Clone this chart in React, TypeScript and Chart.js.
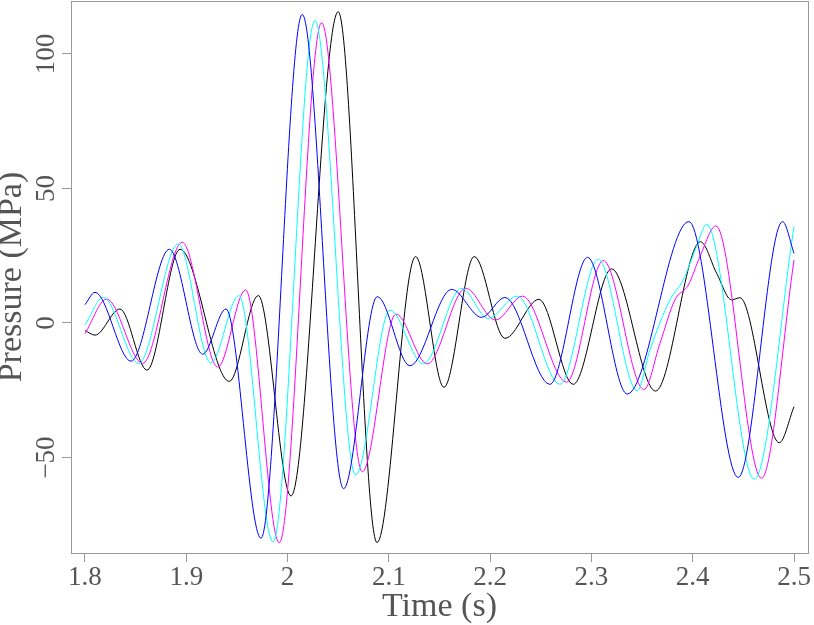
import React, { useEffect, useRef } from 'react';
import { Chart, registerables } from 'chart.js';

Chart.register(...registerables);

const xTicks = [1.8, 1.9, 2.0, 2.1, 2.2, 2.3, 2.4, 2.5];
const yTicks = [-50, 0, 50, 100];
const xMin = 1.7862;
const xMax = 2.5138;
const yMin = -85.5;
const yMax = 119.7;

const blueT = [1.8, 1.8099, 1.8455, 1.8833, 1.9162, 1.9392, 1.9737, 2.0145, 2.0553, 2.0886, 2.1208, 2.162, 2.1916, 2.2146, 2.259, 2.2962, 2.3353, 2.3962, 2.4449, 2.4887, 2.5];
const blueV = [6.8, 11.4, -14.2, 27.4, -11.6, 5.2, -80, 114.7, -61.6, 9.8, -15.9, 12.5, 2.1, 9.5, -22.8, 24.4, -26.4, 37.7, -57.4, 37.7, 25.9];

const cyanT = [1.8, 1.8181, 1.853, 1.8921, 1.9242, 1.952, 1.9856, 2.027, 2.0672, 2.1011, 2.134, 2.1719, 2.1981, 2.2268, 2.2689, 2.3067, 2.3452, 2.3578, 2.3775, 2.3906, 2.4038, 2.4137, 2.4607, 2.5];
const cyanV = [-0.7, 9.5, -15, 29.4, -14.8, 10.2, -81.4, 112.4, -56.5, 4.8, -15.2, 12.9, 1.7, 10, -22.8, 23.7, -25.2, -10, 8.6, 16, 28.4, 36.7, -58.1, 35.8];

const magentaT = [1.8, 1.8214, 1.8569, 1.896, 1.9311, 1.9586, 1.9918, 2.0336, 2.0738, 2.107, 2.1379, 2.1758, 2.2053, 2.232, 2.2754, 2.3117, 2.3518, 2.3676, 2.3824, 2.3956, 2.4071, 2.4229, 2.4679, 2.5];
const magentaV = [-4, 8.9, -15, 30, -16.4, 12.3, -81.7, 111.6, -55.3, 3.3, -15.2, 12.9, 1.1, 10, -22, 23.2, -24.7, -7.6, 8.6, 14.1, 24.7, 36.1, -57.7, 23.4];

const blackT = [1.8, 1.8099, 1.8345, 1.8612, 1.8938, 1.9425, 1.9711, 2.0034, 2.05, 2.0883, 2.1264, 2.1544, 2.1843, 2.2146, 2.2482, 2.282, 2.3199, 2.3633, 2.4077, 2.4236, 2.4384, 2.4466, 2.4854, 2.5];
const blackV = [-2.8, -4.5, 5.2, -17.5, 27.4, -21.7, 10.2, -64.3, 115.7, -81.6, 24.7, -23.9, 24.7, -5.7, 8.8, -22.8, 20.1, -25.3, 30.2, 18.5, 8.6, 9.4, -44.5, -31.1];

const seriesColors = ['#0000ff', '#00ffff', '#ff00ff', '#000000'];

function pts(t: number[], v: number[]) {
  return t.map((x, i) => ({ x, y: v[i] }));
}

const framePlugin = {
  id: 'frame',
  afterDraw(chart: any) {
    const { ctx, chartArea } = chart;
    ctx.save();
    ctx.strokeStyle = '#999999';
    ctx.lineWidth = 1;
    const l = Math.round(chartArea.left) + 0.5;
    const r = Math.round(chartArea.right) + 0.5;
    const t = Math.round(chartArea.top) + 0.5;
    const b = Math.round(chartArea.bottom) + 0.5;
    ctx.strokeRect(l, t, r - l, b - t);
    ctx.restore();
  },
};

function zeroPad(s: any) {
  s.paddingTop = 0;
  s.paddingBottom = 0;
  s.paddingLeft = 0;
  s.paddingRight = 0;
}

export default function App() {
  const ref = useRef<HTMLCanvasElement | null>(null);
  useEffect(() => {
    const canvas = ref.current;
    if (!canvas) return;
    const textColor = '#555555';
    const tickFont = { family: 'Liberation Serif', size: 27 };
    const titleFont = { family: 'Liberation Serif', size: 34, lineHeight: 1 };
    const chart = new Chart(canvas, {
      type: 'line',
      data: {
        datasets: [
          { label: 'blue', data: pts(blueT, blueV), borderColor: seriesColors[0] },
          { label: 'cyan', data: pts(cyanT, cyanV), borderColor: seriesColors[1] },
          { label: 'magenta', data: pts(magentaT, magentaV), borderColor: seriesColors[2] },
          { label: 'black', data: pts(blackT, blackV), borderColor: seriesColors[3] },
        ].map((d) => ({
          ...d,
          borderWidth: 1,
          pointRadius: 0,
          fill: false,
          cubicInterpolationMode: 'monotone' as const,
        })),
      },
      options: {
        responsive: false,
        animation: false,
        events: [],
        layout: { padding: { top: 1, right: 6, left: 0, bottom: 0 } },
        plugins: { legend: { display: false }, tooltip: { enabled: false } },
        scales: {
          x: {
            type: 'linear',
            min: xMin,
            max: xMax,
            afterBuildTicks: (s: any) => {
              s.ticks = xTicks.map((v) => ({ value: v }));
            },
            afterFit: (s: any) => {
              s.height = 72;
              zeroPad(s);
            },
            grid: { drawOnChartArea: false, drawTicks: true, tickLength: 9, color: '#999999' },
            border: { display: false },
            ticks: {
              color: textColor,
              font: tickFont,
              padding: 0,
              maxRotation: 0,
              minRotation: 0,
              callback: (v: any) => String(+Number(v).toFixed(1)),
            },
            title: {
              display: true,
              text: 'Time (s)',
              color: textColor,
              font: titleFont,
              padding: { top: 0, bottom: 1 },
            },
          },
          y: {
            type: 'linear',
            min: yMin,
            max: yMax,
            afterBuildTicks: (s: any) => {
              s.ticks = yTicks.map((v) => ({ value: v }));
            },
            afterFit: (s: any) => {
              s.width = 71;
              zeroPad(s);
            },
            grid: { drawOnChartArea: false, drawTicks: true, tickLength: 9, color: '#999999' },
            border: { display: false },
            ticks: {
              color: textColor,
              font: tickFont,
              padding: -6,
              minRotation: 90,
              maxRotation: 90,
              crossAlign: 'center',
              callback: (v: any) => (Number(v) < 0 ? '\u2212' + Math.abs(Number(v)) : String(v)),
            },
            title: {
              display: true,
              text: 'Pressure (MPa)',
              color: textColor,
              font: titleFont,
              padding: { top: -5, bottom: 0 },
            },
          },
        },
      },
      plugins: [framePlugin],
    } as any);
    return () => chart.destroy();
  }, []);
  return (
    <div style={{ position: 'fixed', left: 0, top: 0, width: 814, height: 625, background: '#fff' }}>
      <canvas ref={ref} width={814} height={625} style={{ display: 'block' }} />
    </div>
  );
}
